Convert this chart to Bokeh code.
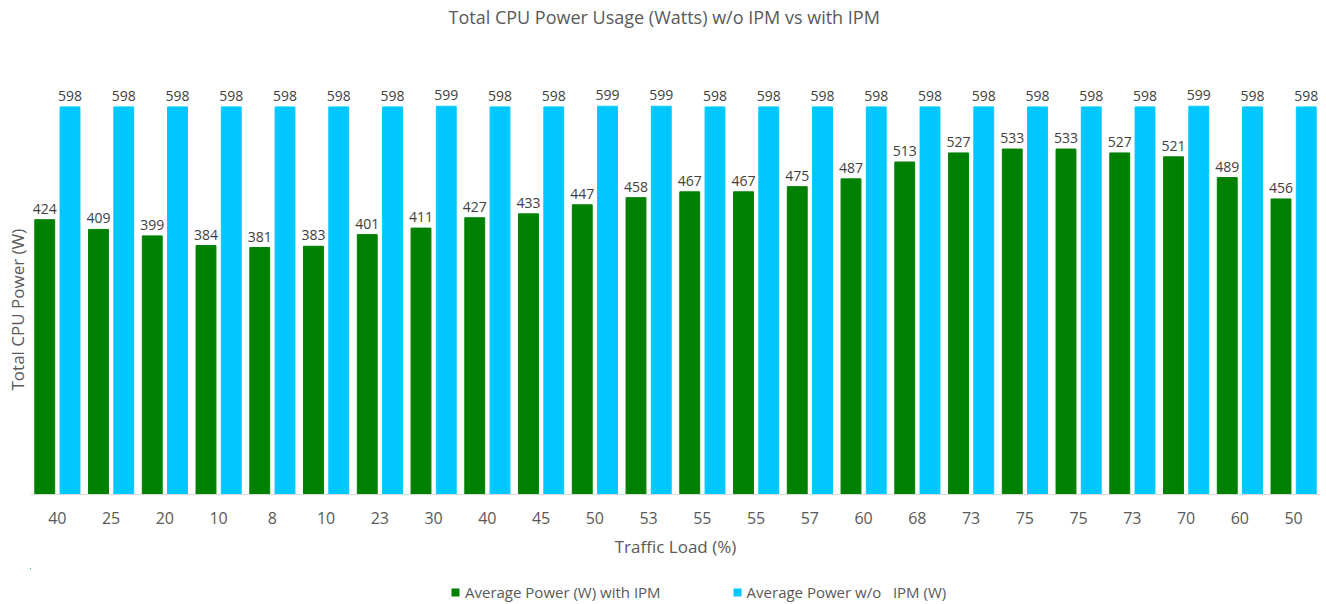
from bokeh.plotting import figure
from bokeh.layouts import column
from bokeh.models import (ColumnDataSource, LabelSet, Legend, LegendItem, FixedTicker,
                          Title, Range1d)
from bokeh.core.properties import value
from bokeh.transform import dodge
from bokeh.embed import file_html
from bokeh.resources import INLINE

# ---- data ----
traffic_load = ["40", "25", "20", "10", "8", "10", "23", "30", "40", "45", "50", "53",
                "55", "55", "57", "60", "68", "73", "75", "75", "73", "70", "60", "50"]
power_with_ipm = [424, 409, 399, 384, 381, 383, 401, 411, 427, 433, 447, 458,
                  467, 467, 475, 487, 513, 527, 533, 533, 527, 521, 489, 456]
power_without_ipm = [598, 598, 598, 598, 598, 598, 598, 599, 598, 598, 599, 599,
                     598, 598, 598, 598, 598, 598, 598, 598, 598, 599, 598, 598]
series_names = ["Average Power (W) with IPM", "Average Power w/o   IPM (W)"]

GREEN = "#008000"
BLUE = "#00C8FF"
TXT = "#595959"
FONT = "Open Sans"

idx = list(range(len(traffic_load)))
src = ColumnDataSource(dict(idx=idx, w=power_with_ipm, wo=power_without_ipm,
                            wl=[str(v) for v in power_with_ipm],
                            wol=[str(v) for v in power_without_ipm]))

p = figure(width=1326, height=568, output_backend="svg", toolbar_location=None,
           x_range=Range1d(-0.5, len(idx) - 0.5), y_range=Range1d(0, 719),
           y_axis_location=None,
           min_border_left=30, min_border_right=6, min_border_top=28, min_border_bottom=74)

p.title.text = "Total CPU Power Usage (Watts) w/o IPM vs with IPM"
p.title.align = "left"
p.title.offset = 418
p.title.text_font = FONT
p.title.text_font_size = "18px"
p.title.text_font_style = "normal"
p.title.text_color = TXT
p.title.standoff = 0

p.outline_line_color = None
p.grid.visible = False

g = p.vbar(x=dodge("idx", -0.235, range=p.x_range), top="w", width=0.37, source=src,
           fill_color=GREEN, line_color=GREEN)
b = p.vbar(x=dodge("idx", 0.235, range=p.x_range), top="wo", width=0.37, source=src,
           fill_color=BLUE, line_color=BLUE)

for col, lab, off in (("w", "wl", -0.235), ("wo", "wol", 0.235)):
    p.add_layout(LabelSet(x=dodge("idx", off, range=p.x_range), y=col, text=lab, source=src,
                          y_offset=6, text_align="center", text_baseline="bottom",
                          text_font=value(FONT), text_font_size="14px", text_color="#404040"))

# x axis
xa = p.xaxis[0]
xa.ticker = FixedTicker(ticks=idx)
xa.major_label_overrides = {i: t for i, t in zip(idx, traffic_load)}
xa.major_tick_out = 0
xa.major_tick_in = 0
xa.minor_tick_out = 0
xa.minor_tick_in = 0
xa.axis_line_color = "#D9D9D9"
xa.major_label_standoff = 17
xa.major_label_text_font = FONT
xa.major_label_text_font_size = "16px"
xa.major_label_text_color = TXT
xa.axis_label = "Traffic Load (%)"
xa.axis_label_text_font = FONT
xa.axis_label_text_font_size = "17px"
xa.axis_label_text_font_style = "normal"
xa.axis_label_text_color = TXT
xa.axis_label_standoff = 8

# y axis title (no y axis is drawn in the reference)
p.add_layout(Title(text="Total CPU  Power (W)", align="left", offset=104, text_font=FONT,
                   text_font_size="17px", text_font_style="normal", text_color=TXT,
                   standoff=4), "left")

# legend strip: the same two series, whose bars fall outside this strip's ranges
p2 = figure(width=1326, height=36, output_backend="svg", toolbar_location=None,
            x_range=Range1d(1000, 1001), y_range=Range1d(-2000, -1000),
            x_axis_location=None, y_axis_location=None, min_border=0)
p2.outline_line_color = None
p2.grid.visible = False
lg = p2.vbar(x="idx", top="w", width=0.37, source=src, fill_color=GREEN, line_color=None)
lb = p2.vbar(x="idx", top="wo", width=0.37, source=src, fill_color=BLUE, line_color=None)
legend = Legend(items=[LegendItem(label=series_names[0], renderers=[lg]),
                       LegendItem(label=series_names[1], renderers=[lb])],
                orientation="horizontal", location=(420, 2),
                label_text_font=FONT, label_text_font_size="15px", label_text_color=TXT,
                glyph_width=10, glyph_height=10, label_standoff=5, spacing=71,
                border_line_color=None, background_fill_alpha=0, padding=0, margin=0)
p2.add_layout(legend)

open("out.html", "w").write(file_html(column(p, p2), INLINE))
